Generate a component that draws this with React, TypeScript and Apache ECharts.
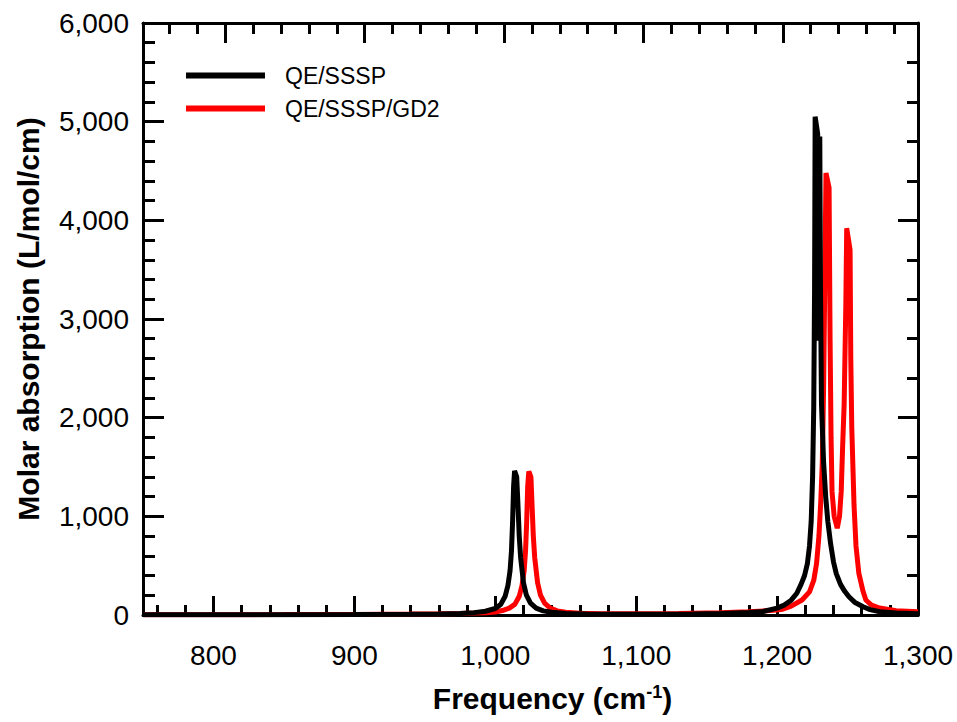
import React, { useEffect, useRef } from "react";
import * as echarts from "echarts";

const blackFreq = [750, 800, 850, 900, 940, 960, 975, 985, 993, 1000, 1004, 1007, 1009, 1010.5, 1011.5, 1012.3, 1013, 1013.7, 1015.2, 1016, 1017, 1018, 1020, 1022, 1025, 1029, 1034, 1040, 1050, 1065, 1085, 1110, 1140, 1160, 1170, 1180, 1190, 1200, 1205, 1210, 1214, 1217, 1219.5, 1221.5, 1223, 1224.2, 1225.2, 1226, 1226.6, 1227, 1228.8, 1229.8, 1230.3, 1230.8, 1231.5, 1233, 1234.5, 1236, 1238, 1240, 1242, 1245, 1248, 1251, 1255, 1261, 1266, 1273, 1285, 1300];
const blackAbs = [2, 2, 3, 4, 7, 10, 16, 24, 38, 66, 110, 190, 300, 450, 650, 950, 1300, 1460, 1400, 1150, 800, 580, 330, 205, 120, 70, 42, 27, 16, 10, 8, 8, 11, 15, 20, 25, 35, 70, 100, 150, 220, 310, 400, 520, 700, 950, 1400, 2100, 3300, 5050, 4880, 2780, 4850, 3300, 2140, 1550, 1200, 950, 720, 540, 420, 310, 240, 185, 130, 84, 55, 33, 20, 12];

const redFreq = [750, 800, 850, 900, 940, 960, 975, 985, 993, 1000, 1005, 1010, 1014, 1017, 1019, 1020.5, 1021.5, 1022.3, 1023, 1023.8, 1025.3, 1026, 1027, 1028, 1030, 1032, 1035, 1039, 1044, 1050, 1060, 1075, 1100, 1130, 1160, 1180, 1195, 1203, 1210, 1217.7, 1223, 1226, 1228, 1229.7, 1231, 1232.1, 1233, 1233.7, 1234.7, 1236.9, 1237.6, 1238.3, 1239, 1240.5, 1242.7, 1244.3, 1245.5, 1246.5, 1247.6, 1248.8, 1249.4, 1251.8, 1252.3, 1253, 1254.6, 1256, 1258, 1261, 1263, 1267, 1272.7, 1284.5, 1300];
const redAbs = [3, 3, 4, 6, 9, 12, 16, 20, 24, 30, 45, 70, 110, 190, 300, 450, 650, 950, 1300, 1455, 1400, 1150, 800, 580, 330, 205, 120, 70, 42, 28, 18, 12, 12, 15, 22, 32, 45, 55, 90, 152, 235, 350, 520, 800, 1150, 1550, 2300, 3164, 4480, 4330, 2800, 1800, 1250, 1000, 880, 1000, 1250, 1700, 2140, 3160, 3920, 3700, 2600, 1900, 1115, 700, 425, 240, 152, 100, 71, 44, 33];

const seriesNames = ["QE/SSSP", "QE/SSSP/GD2"];
const xMajorTicks = [800, 900, 1000, 1100, 1200, 1300];
const xMinorTicks = [760, 780, 820, 840, 860, 880, 920, 940, 960, 980, 1020, 1040, 1060, 1080, 1120, 1140, 1160, 1180, 1220, 1240, 1260, 1280];
const topMajorTicks = [800, 900, 1000, 1100, 1200];
const topMinorTicks = [760, 780, 820, 840, 860, 880, 920, 940, 960, 980, 1020, 1040, 1060, 1080, 1120, 1140, 1160, 1180, 1220, 1240, 1260, 1280];

const FONT = "'Liberation Sans', Arial, Helvetica, sans-serif";
const fmt = (v: number) => Math.round(v).toLocaleString("en-US");

const zip = (xs: number[], ys: number[]) => xs.map((x, i) => [x, ys[i]]);

export default function App() {
  const ref = useRef<HTMLDivElement>(null);
  useEffect(() => {
    if (!ref.current) return;
    const chart = echarts.init(ref.current, undefined, { renderer: "svg" });
    const axisLine = { show: true, onZero: false, lineStyle: { color: "#000", width: 3 } };
    const tickStyle = { color: "#000", width: 3 };
    chart.setOption({
      animation: false,
      backgroundColor: "#fff",
      textStyle: { fontFamily: FONT },
      grid: { left: 143, right: 39, top: 23, bottom: 107, outerBoundsMode: "none" },
      legend: {
        left: 186,
        top: 64,
        padding: 0,
        orient: "vertical",
        icon: "rect",
        itemWidth: 79,
        itemHeight: 6,
        itemGap: 10,
        data: seriesNames,
        textStyle: { fontSize: 23, color: "#000", fontFamily: FONT, padding: [0, 0, 0, 15] },
      },
      xAxis: [
        {
          type: "value",
          position: "bottom",
          min: 750,
          max: 1300,
          axisLine,
          splitLine: { show: false },
          axisTick: { show: true, inside: true, length: 19, lineStyle: tickStyle, customValues: xMajorTicks },
          axisLabel: { customValues: xMajorTicks, formatter: fmt, fontSize: 28, color: "#000", margin: 26, fontFamily: FONT },
          name: "Frequency (cm{sup|-1})",
          nameLocation: "middle",
          nameGap: 68,
          nameTextStyle: {
            fontSize: 30,
            fontWeight: "bold",
            color: "#000",
            fontFamily: FONT,
            padding: [0, 0, 0, 44],
            rich: { sup: { fontSize: 18, fontWeight: "bold", color: "#000", fontFamily: FONT, verticalAlign: "top", padding: [0, 0, 11, 0] } },
          },
        },
        {
          type: "value",
          position: "bottom",
          min: 750,
          max: 1300,
          axisLine: { show: false, onZero: false },
          splitLine: { show: false },
          axisTick: { show: true, inside: true, length: 10, lineStyle: tickStyle, customValues: xMinorTicks },
          axisLabel: { show: false },
        },
        {
          type: "value",
          position: "top",
          min: 741,
          max: 1297,
          axisLine,
          splitLine: { show: false },
          axisTick: { show: true, inside: true, length: 20, lineStyle: tickStyle, customValues: topMajorTicks },
          axisLabel: { show: false },
        },
        {
          type: "value",
          position: "top",
          min: 741,
          max: 1297,
          axisLine: { show: false, onZero: false },
          splitLine: { show: false },
          axisTick: { show: true, inside: true, length: 11, lineStyle: tickStyle, customValues: topMinorTicks },
          axisLabel: { show: false },
        },
      ],
      yAxis: [
        {
          type: "value",
          position: "left",
          min: 0,
          max: 6000,
          interval: 1000,
          axisLine,
          splitLine: { show: false },
          axisTick: { show: true, inside: true, length: 21, lineStyle: tickStyle },
          minorTick: { show: true, splitNumber: 5, length: 12, lineStyle: tickStyle },
          axisLabel: { formatter: fmt, fontSize: 28, color: "#000", margin: 14, fontFamily: FONT },
          name: "Molar absorption (L/mol/cm)",
          nameLocation: "middle",
          nameGap: 100,
          nameRotate: 90,
          nameTextStyle: { fontSize: 30, fontWeight: "bold", color: "#000", fontFamily: FONT },
        },
        {
          type: "value",
          position: "right",
          min: 0,
          max: 6000,
          interval: 2000,
          axisLine,
          splitLine: { show: false },
          axisTick: { show: true, inside: true, length: 20, lineStyle: tickStyle },
          minorTick: { show: true, splitNumber: 5, length: 11, lineStyle: tickStyle },
          axisLabel: { show: false },
        },
      ],
      series: [
        {
          name: seriesNames[0],
          type: "line",
          xAxisIndex: 0,
          yAxisIndex: 0,
          data: zip(blackFreq, blackAbs),
          showSymbol: false,
          symbol: "none",
          lineStyle: { color: "#000000", width: 5 },
          itemStyle: { color: "#000000" },
          z: 3,
        },
        {
          name: seriesNames[1],
          type: "line",
          xAxisIndex: 0,
          yAxisIndex: 0,
          data: zip(redFreq, redAbs),
          showSymbol: false,
          symbol: "none",
          lineStyle: { color: "#ff0000", width: 5 },
          itemStyle: { color: "#ff0000" },
          z: 2,
        },
      ],
    });
    return () => chart.dispose();
  }, []);
  return <div ref={ref} style={{ position: "fixed", left: 0, top: 0, width: 957, height: 722 }} />;
}
